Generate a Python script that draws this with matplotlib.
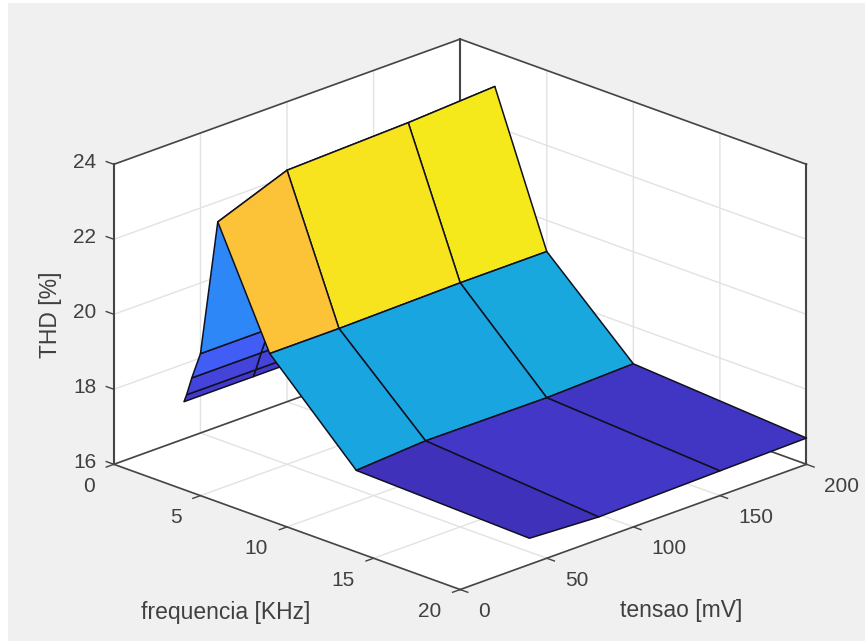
import matplotlib
matplotlib.use('Agg')
import matplotlib.pyplot as plt
from matplotlib.colors import LinearSegmentedColormap, Normalize
from matplotlib.patches import Rectangle
from mpl_toolkits.mplot3d import proj3d
import numpy as np

# values
freq = [0.05, 0.2, 0.5, 1, 2, 5, 10, 20]
tensao = [40, 80, 150, 200]
thd = [
    [17.01, 17.22, 17.72, 18.45, 22.13, 19.12, 16.84, 16.70],
    [17.01, 17.22, 17.72, 18.45, 22.84, 19.12, 16.96, 16.60],
    [17.01, 17.22, 17.72, 18.45, 22.94, 19.17, 16.94, 16.66],
    [17.01, 17.22, 17.72, 18.45, 23.07, 19.17, 17.01, 16.70],
]
freq_ticks = [0, 5, 10, 15, 20]
tensao_ticks = [0, 50, 100, 150, 200]
thd_ticks = [16, 18, 20, 22, 24]

parula = LinearSegmentedColormap.from_list('parula', [
    (0.2422, 0.1504, 0.6603), (0.2810, 0.3228, 0.9579), (0.1786, 0.5289, 0.9682),
    (0.0689, 0.6948, 0.8394), (0.2161, 0.7843, 0.5923), (0.6720, 0.7793, 0.2227),
    (0.9970, 0.7659, 0.2199), (0.9600, 0.9350, 0.0900)])

plt.rcParams['font.family'] = ['Liberation Sans', 'DejaVu Sans']
TXT = '#404040'
LINE = '#454545'

fig = plt.figure(figsize=(8.65, 6.43), dpi=100, facecolor='white')
fig.add_artist(Rectangle((8/865, 2/643), 857/865, 638/643, transform=fig.transFigure,
                         facecolor='#f0f0f0', edgecolor='none', zorder=-5))

ax = fig.add_axes([19/865, -1.5/643, 1.0, 1.0], projection='3d', computed_zorder=False)
ax.patch.set_alpha(0)
ax.set_proj_type('ortho')
ax.view_init(elev=21.2, azim=-45)
ax.set_box_aspect((1, 1, 0.657), zoom=1.153)

F, T = np.meshgrid(freq, tensao)
Z = np.array(thd)
colors = parula(Normalize(Z.min(), Z.max())(Z))
surf = ax.plot_surface(F, T, Z, rstride=1, cstride=1, facecolors=colors, shade=False,
                       edgecolor='#101020', linewidth=1.1, antialiased=True, zorder=3)
surf.set_clip_on(False)

ax.set_xlim(0, 20)
ax.set_ylim(0, 200)
ax.set_zlim(16, 24)
ax.set_xticks(freq_ticks)
ax.set_yticks(tensao_ticks)
ax.set_zticks(thd_ticks)
ax.set_xticklabels([])
ax.set_yticklabels([])
ax.set_zticklabels([])

# grid lines sit on the pane edges, so the box goes on top of them
f0, f1 = freq_ticks[0], freq_ticks[-1]
t0, t1 = tensao_ticks[0], tensao_ticks[-1]
z0, z1 = thd_ticks[0], thd_ticks[-1]
box = dict(color=LINE, linewidth=1.2, zorder=1, clip_on=False)
tall = dict(color=LINE, linewidth=1.5, zorder=1, clip_on=False)
ax.plot([f0, f0], [t0, t1], [z1, z1], **box)
ax.plot([f0, f1], [t1, t1], [z1, z1], **box)
ax.plot([f0, f0], [t0, t1], [z0, z0], **box)
ax.plot([f0, f1], [t1, t1], [z0, z0], **box)
ax.plot([f0, f0], [t1, t1], [z0, z1], **tall)
ax.plot([f1, f1], [t1, t1], [z0, z1], **tall)
ax.plot([f0, f0], [t0, t0], [z0, z1], **tall)

# tick marks, about 8 px long, as in the reference
tick_t = 4.4
tick_f = 0.44
tk = dict(color=LINE, linewidth=1.0, zorder=1, clip_on=False)
for f in freq_ticks:
    ax.plot([f, f], [t0 - tick_t, t0], [z0, z0], **tk)
for t in tensao_ticks:
    ax.plot([f1, f1 + tick_f], [t, t], [z0, z0], **tk)
for z in thd_ticks:
    ax.plot([f0 - tick_f, f0], [t0, t0], [z, z], **tk)

for axis in (ax.xaxis, ax.yaxis, ax.zaxis):
    axis.pane.set_alpha(1)
    axis.pane.set_facecolor((1, 1, 1, 1))
    axis.pane.set_edgecolor('none')
    axis.line.set_color(LINE)
    axis.line.set_linewidth(1.2)
    axis._axinfo['grid']['color'] = '#e2e2e2'
    axis._axinfo['grid']['linewidth'] = 1.0
    axis._axinfo['tick']['inward_factor'] = 0.0
    axis._axinfo['tick']['outward_factor'] = 0.0

ax.zaxis.set_ticks_position('lower')


def tick_text(label, x, y, z, dx, dy, ha):
    # label placed some pixels away from the projected tick
    px, py, _ = proj3d.proj_transform(x, y, z, ax.get_proj())
    ax.annotate(label, xy=(px, py), xycoords='data', xytext=(dx, dy), textcoords='offset pixels',
                ha=ha, va='center', fontsize=15, color=TXT, annotation_clip=False)


for f in freq_ticks:
    tick_text(str(f), f, t0, z0, -19, -22, 'right')
for t in tensao_ticks:
    tick_text(str(t), f1, t, z0, 18, -22, 'left')
for z in thd_ticks:
    tick_text(str(z), f0, t0, z, -29, 1.5, 'center')

fig.text(226/865, 1 - 612/643, 'frequencia [KHz]', fontsize=16.5, color=TXT, ha='center', va='center')
fig.text(681/865, 1 - 611/643, 'tensao [mV]', fontsize=16.5, color=TXT, ha='center', va='center')
fig.text(51/865, 1 - 315/643, 'THD [%]', fontsize=16.5, color=TXT, ha='center', va='center', rotation=90)

fig.savefig('out.png', dpi=100, facecolor=fig.get_facecolor())
